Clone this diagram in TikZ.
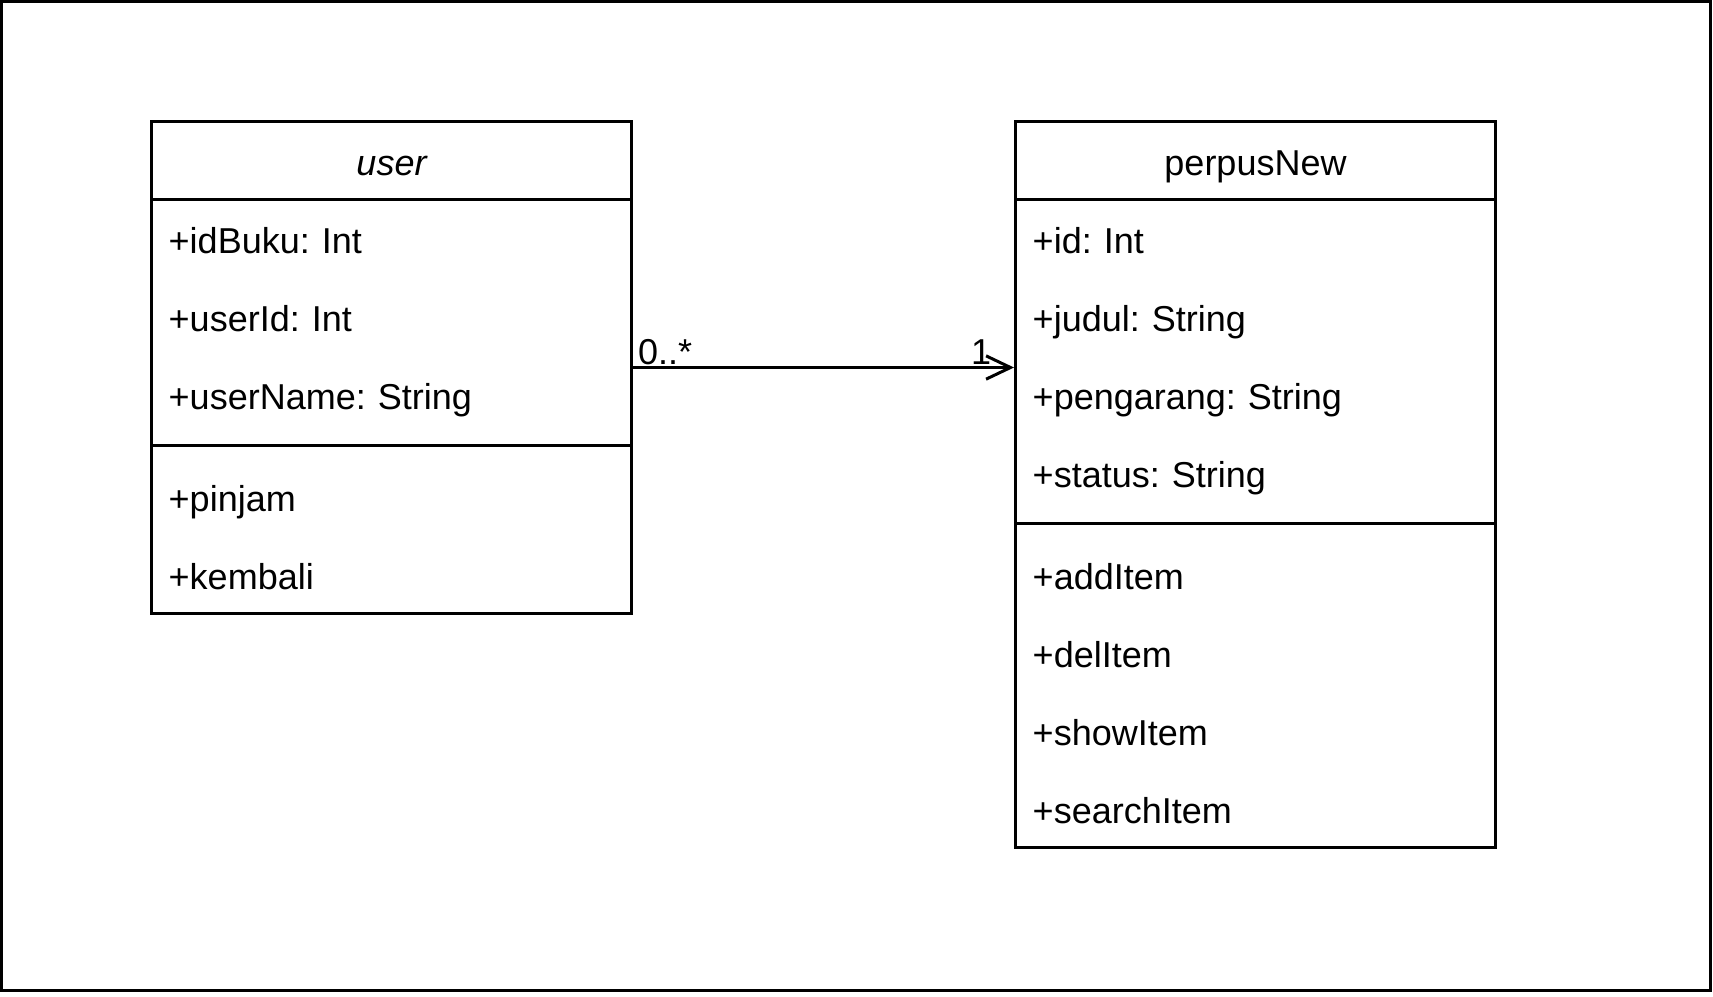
\documentclass[tikz,border=0pt]{standalone}
\usepackage{fontspec}
\setmainfont{Liberation Sans}
\usetikzlibrary{positioning,fit,arrows.meta}
\tikzset{%
  classhead/.style = {shape=rectangle, inner sep=0pt, outer sep=0pt,%
                      minimum width=216pt, minimum height=35.1pt,%
                      text height=13.6pt, text depth=0pt},%
  classrow/.style  = {classhead, align=left, text width=200.5pt,%
                      inner xsep=7.75pt},%
  classgap/.style  = {shape=rectangle, inner sep=0pt, outer sep=0pt,%
                      minimum width=216pt, minimum height=10.8pt},%
  classbox/.style  = {draw, inner sep=0pt, line width=1.35pt},%
  classline/.style = {line width=1.35pt},%
  assoc/.style     = {line width=1.35pt,%
                      -{Straight Barb[length=11pt,width=10.5pt,line width=1.35pt]}},%
  mult/.style      = {inner ysep=0.75pt, text depth=0pt}%
}
\frenchspacing
\begin{document}
\begin{tikzpicture}[x=1.35pt,y=-1.35pt,
  every node/.style={font=\fontsize{16.2}{19}\selectfont}]
	\useasboundingbox (0,0) rectangle (571,332);
	\draw[line width=1.35pt] (0.5,0.5) rectangle (570.2,330.2);
	% class user
	\node[classhead,font=\fontsize{16.2}{19}\selectfont\itshape] (user) at (130.5,53.5) {user};
	\node[classrow,below=0pt of user] (user-a1) {+idBuku: Int};
	\node[classrow,below=0pt of user-a1] (user-a2) {+userId: Int};
	\node[classrow,below=0pt of user-a2] (user-a3) {+userName: String};
	\node[classgap,below=0pt of user-a3] (user-sep) {};
	\node[classrow,below=0pt of user-sep] (user-m1) {+pinjam};
	\node[classrow,below=0pt of user-m1] (user-m2) {+kembali};
	\node[classbox,fit=(user)(user-m2)] (userbox) {};
	\draw[classline] (user.south west) -- (user.south east);
	\draw[classline] (user-sep.west) -- (user-sep.east);
	% class perpusNew
	\node[classhead] (perpus) at (418.5,53.5) {perpusNew};
	\node[classrow,below=0pt of perpus] (perpus-a1) {+id: Int};
	\node[classrow,below=0pt of perpus-a1] (perpus-a2) {+judul: String};
	\node[classrow,below=0pt of perpus-a2] (perpus-a3) {+pengarang: String};
	\node[classrow,below=0pt of perpus-a3] (perpus-a4) {+status: String};
	\node[classgap,below=0pt of perpus-a4] (perpus-sep) {};
	\node[classrow,below=0pt of perpus-sep] (perpus-m1) {+addItem};
	\node[classrow,below=0pt of perpus-m1] (perpus-m2) {+delItem};
	\node[classrow,below=0pt of perpus-m2] (perpus-m3) {+showItem};
	\node[classrow,below=0pt of perpus-m3] (perpus-m4) {+searchItem};
	\node[classbox,fit=(perpus)(perpus-m4)] (perpusbox) {};
	\draw[classline] (perpus.south west) -- (perpus.south east);
	\draw[classline] (perpus-sep.west) -- (perpus-sep.east);
	% association
	\draw[assoc] (userbox.east) -- (userbox.east -| perpusbox.west)
		node[mult,pos=0,anchor=south west,inner xsep=1.6pt] (mult-user) {0..*}
		node[mult,pos=1,anchor=south east,inner xsep=9.6pt] (mult-perpus) {1};
\end{tikzpicture}
\end{document}
